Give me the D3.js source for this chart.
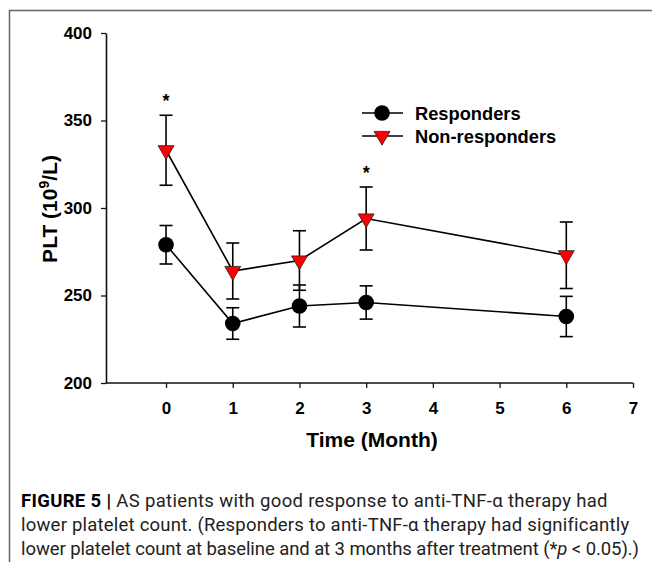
<!DOCTYPE html>
<html><head><meta charset="utf-8">
<script src="https://cdn.jsdelivr.net/npm/d3@7"></script>
<style>body{margin:0;background:#fff}svg{display:block}</style>
</head><body>
<script>
const months = [0, 1, 2, 3, 6];
const respMean = [279, 234, 244, 246, 238];
const respErr = [11, 9, 12, 9.5, 11.5];
const nonMean = [333, 264, 270, 294, 273];
const nonErr = [20, 16, 17, 18, 19];
const sigMonths = [0, 3];
const xTicks = [0, 1, 2, 3, 4, 5, 6, 7];
const yTicks = [200, 250, 300, 350, 400];
const seriesNames = ["Responders", "Non-responders"];

const W = 652, H = 562;
const svg = d3.select("body").append("svg").attr("width", W).attr("height", H);
const font = "'Liberation Sans', Arial, sans-serif";

// frame
svg.append("path").attr("d", `M9.5,${H} V10.5 H${W}`).attr("fill", "none")
  .attr("stroke", "#666").attr("stroke-width", 1.5);

const x = d3.scaleLinear().domain([-0.9, 7]).range([106, 633]);
const y = d3.scaleLinear().domain([200, 400]).range([383, 33]);

const gx = svg.append("g").attr("transform", "translate(0,383)")
  .call(d3.axisBottom(x).tickValues(xTicks).tickSize(5).tickPadding(14).tickSizeOuter(0));
const gy = svg.append("g").attr("transform", "translate(106,0)")
  .call(d3.axisLeft(y).tickValues(yTicks).tickSize(5).tickPadding(9).tickSizeOuter(0));
[gx, gy].forEach(g => {
  g.select(".domain").attr("stroke", "#111").attr("stroke-width", 1.6);
  g.selectAll(".tick line").attr("stroke", "#111").attr("stroke-width", 1.3);
  g.selectAll(".tick text").attr("fill", "#000").style("font-family", font)
    .style("font-weight", "bold").style("font-size", "17px");
});
gx.select(".domain").attr("d", `M106,0H633`);

svg.append("text").attr("x", 372).attr("y", 447).attr("text-anchor", "middle")
  .style("font-family", font).style("font-weight", "bold").style("font-size", "21px")
  .text("Time (Month)");
const yt = svg.append("text").attr("transform", "translate(57,209) rotate(-90)")
  .attr("text-anchor", "middle").style("font-family", font).style("font-weight", "bold")
  .style("font-size", "21px");
yt.append("tspan").text("PLT (10");
yt.append("tspan").attr("dy", -8).style("font-size", "14px").text("9");
yt.append("tspan").attr("dy", 8).text("/L)");

const tri = d3.symbol().type(d3.symbolTriangle).size(110);

function series(mean, err, kind) {
  const pts = months.map((m, i) => ({m, v: mean[i], e: err[i]}));
  svg.append("path").datum(pts).attr("fill", "none").attr("stroke", "#000").attr("stroke-width", 1.6)
    .attr("d", d3.line().x(d => x(d.m)).y(d => y(d.v)));
  const eb = svg.append("g").attr("stroke", "#000").attr("stroke-width", 1.6);
  pts.forEach(d => {
    const cx = x(d.m);
    eb.append("line").attr("x1", cx).attr("x2", cx).attr("y1", y(d.v + d.e)).attr("y2", y(d.v - d.e));
    [d.v + d.e, d.v - d.e].forEach(v => eb.append("line").attr("x1", cx - 6.5).attr("x2", cx + 6.5)
      .attr("y1", y(v)).attr("y2", y(v)));
  });
  pts.forEach(d => marker(x(d.m), y(d.v), kind));
}
function marker(cx, cy, kind) {
  if (kind === 0) svg.append("circle").attr("cx", cx).attr("cy", cy).attr("r", 7.8).attr("fill", "#000");
  else svg.append("path").attr("d", tri).attr("transform", `translate(${cx},${cy}) rotate(180)`)
    .attr("fill", "#ff0000").attr("stroke", "#222").attr("stroke-width", 0.8);
}
series(respMean, respErr, 0);
series(nonMean, nonErr, 1);

sigMonths.forEach(m => {
  const i = months.indexOf(m);
  svg.append("text").attr("x", x(m)).attr("y", y(nonMean[i] + nonErr[i]) - 8).attr("text-anchor", "middle")
    .style("font-family", font).style("font-weight", "bold").style("font-size", "18px").text("*");
});

// legend
seriesNames.forEach((name, i) => {
  const ly = 113 + i * 23;
  svg.append("line").attr("x1", 362).attr("x2", 403).attr("y1", ly).attr("y2", ly)
    .attr("stroke", "#000").attr("stroke-width", 1.6);
  marker(382, ly, i);
  svg.append("text").attr("x", 415).attr("y", ly + 6.5).style("font-family", font)
    .style("font-weight", "bold").style("font-size", "18.3px").text(name);
});

// caption
const capFont = "Roboto, 'Liberation Sans', sans-serif";
const lines = [
  [["FIGURE 5 | ", true], ["AS patients with good response to anti-TNF-α therapy had", false]],
  [["lower platelet count. (Responders to anti-TNF-α therapy had significantly", false]],
  [["lower platelet count at baseline and at 3 months after treatment (*", false], ["p", "i"], [" < 0.05).)", false]]
];
const spacing = [0.33, 0.22, -0.08];
lines.forEach((ln, i) => {
  const t = svg.append("text").attr("x", 21).attr("y", 507 + i * 24)
    .style("font-family", capFont).style("font-size", "18.5px").attr("fill", "#222")
    .style("letter-spacing", spacing[i] + "px");
  ln.forEach(([s, b]) => {
    const ts = t.append("tspan").text(s);
    if (b === true) ts.style("font-weight", "bold").attr("fill", "#000");
    if (b === "i") ts.style("font-style", "italic");
  });
});
</script>
</body></html>
